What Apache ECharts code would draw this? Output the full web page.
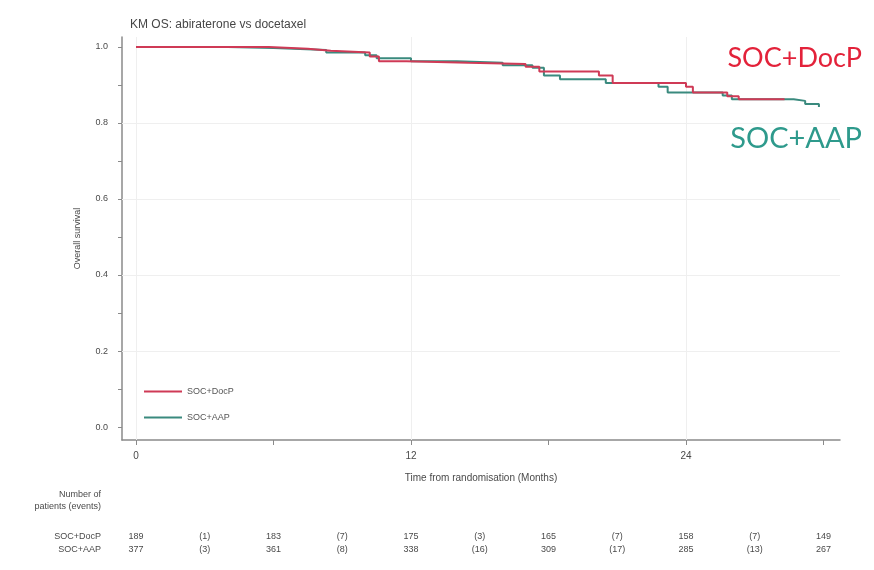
<!DOCTYPE html>
<html>
<head>
<meta charset="utf-8">
<script src="https://cdn.jsdelivr.net/npm/echarts@6/dist/echarts.min.js"></script>
<style>
  html, body { margin: 0; padding: 0; background: #ffffff; }
  #chart { width: 874px; height: 570px; }
</style>
</head>
<body>
<div id="chart"></div>
<script>
// Kaplan-Meier overall survival steps (months, survival probability)
const timesDocP = [0, 5.8, 7.5, 8.5, 10.2, 10.6, 11.8, 14.5, 17.0, 17.6, 20.2, 20.8, 24.0, 24.3, 25.8, 26.3, 28.3];
const survDocP  = [1.0, 0.995, 0.990, 0.985, 0.975, 0.962, 0.958, 0.955, 0.948, 0.935, 0.925, 0.905, 0.895, 0.880, 0.870, 0.862, 0.862];

const timesAAP = [0, 4.0, 6.0, 8.3, 10.0, 10.5, 12.0, 14.0, 16.0, 17.3, 17.8, 18.5, 20.5, 22.8, 23.2, 25.6, 26.0, 28.7, 29.2, 29.8];
const survAAP  = [1.0, 0.997, 0.992, 0.985, 0.978, 0.970, 0.962, 0.958, 0.952, 0.945, 0.925, 0.915, 0.905, 0.895, 0.880, 0.872, 0.862, 0.858, 0.850, 0.842];

// Number at risk table
const riskTimes  = [0, 6, 12, 18, 24, 30];
const riskDocP   = [189, 183, 175, 165, 158, 149];
const riskAAP    = [377, 361, 338, 309, 285, 267];
const eventTimes = [3, 9, 15, 21, 27];
const eventsDocP = [1, 7, 3, 7, 7];
const eventsAAP  = [3, 8, 16, 17, 13];

// Axis ticks and labels
const xTicks  = [0, 6, 12, 18, 24, 30];
const xLabels = [0, 12, 24];
const yTicks  = [0, 0.1, 0.2, 0.3, 0.4, 0.5, 0.6, 0.7, 0.8, 0.9, 1.0];
const yLabels = [0, 0.2, 0.4, 0.6, 0.8, 1.0];

const armNames = ['SOC+DocP', 'SOC+AAP'];
const red = '#cf3a56';
const teal = '#3a8a7e';

const zip = (a, b) => a.map((v, i) => [v, b[i]]);

const chart = echarts.init(document.getElementById('chart'));
const font = 'Liberation Sans, Arial, sans-serif';
const axisGray = '#8a8a8a';
const textGray = '#4a4a4a';

chart.setOption({
  animation: false,
  backgroundColor: '#ffffff',
  textStyle: { fontFamily: font },
  title: {
    text: 'KM OS: abiraterone vs docetaxel',
    left: 125, top: 14,
    textStyle: { fontSize: 12, fontWeight: 'normal', color: '#464646', fontFamily: font }
  },
  grid: { left: 122, right: 34, top: 37, bottom: 130 },
  legend: {
    data: armNames,
    orient: 'vertical',
    left: 139, top: 382,
    itemWidth: 38, itemHeight: 2, itemGap: 17,
    icon: 'rect',
    textStyle: { fontSize: 9, color: '#555', fontFamily: font }
  },
  xAxis: {
    type: 'value',
    min: -0.611, max: 30.72,
    name: 'Time from randomisation (Months)',
    nameLocation: 'middle', nameGap: 33,
    nameTextStyle: { fontSize: 10, color: textGray },
    axisLine: { show: true, onZero: false, lineStyle: { color: axisGray, width: 1.5 } },
    axisTick: { show: true, customValues: xTicks, length: 5, lineStyle: { color: axisGray } },
    axisLabel: { customValues: xLabels, fontSize: 10, color: textGray, margin: 11 },
    splitLine: { show: false }
  },
  yAxis: {
    type: 'value',
    min: -0.034, max: 1.026,
    name: 'Overall survival',
    nameLocation: 'middle', nameGap: 40,
    nameTextStyle: { fontSize: 9, color: textGray },
    axisLine: { show: true, onZero: false, lineStyle: { color: axisGray, width: 1.5 } },
    axisTick: { show: true, customValues: yTicks, length: 4, lineStyle: { color: axisGray } },
    axisLabel: { customValues: yLabels, fontSize: 9, color: textGray, margin: 14,
                 formatter: v => v.toFixed(1) },
    splitLine: { show: false }
  },
  series: [
    {
      name: armNames[0], type: 'line', step: 'end', symbol: 'none',
      data: zip(timesDocP, survDocP),
      itemStyle: { color: red },
      lineStyle: { color: red, width: 2 },
      z: 3,
      markLine: {
        silent: true, symbol: 'none', label: { show: false },
        lineStyle: { color: '#efefef', width: 1, type: 'solid' },
        data: [
          { yAxis: 0.2 }, { yAxis: 0.4 }, { yAxis: 0.6 }, { yAxis: 0.8 },
          { xAxis: 0 }, { xAxis: 12 }, { xAxis: 24 }
        ],
        z: 1
      }
    },
    {
      name: armNames[1], type: 'line', step: 'end', symbol: 'none',
      data: zip(timesAAP, survAAP),
      itemStyle: { color: teal },
      lineStyle: { color: teal, width: 2 },
      z: 2
    }
  ]
});

// Annotation labels and the number-at-risk table, placed through the x axis scale
function buildGraphics() {
  const px = t => chart.convertToPixel({ xAxisIndex: 0 }, t);
  const small = { fontSize: 9, fill: textGray, fontFamily: font };
  const els = [];

  els.push({ type: 'text', right: 12, top: 45,
    style: { text: 'SOC+DocP', fontSize: 27, fill: '#e3223a', fontFamily: 'Lato, Open Sans, sans-serif' } });
  els.push({ type: 'text', right: 12, top: 124,
    style: { text: 'SOC+AAP', fontSize: 29, fill: '#2e9a8c', fontFamily: 'Lato, Open Sans, sans-serif' } });

  const labelRight = 101;
  [['Number of', 495], ['patients (events)', 507], ['SOC+DocP', 537], ['SOC+AAP', 550]].forEach(([s, y]) => {
    els.push({ type: 'text', x: labelRight, y: y,
      style: Object.assign({ text: s, align: 'right', verticalAlign: 'middle' }, small) });
  });

  riskTimes.forEach((t, i) => {
    els.push({ type: 'text', x: px(t), y: 537,
      style: Object.assign({ text: String(riskDocP[i]), align: 'center', verticalAlign: 'middle' }, small) });
    els.push({ type: 'text', x: px(t), y: 550,
      style: Object.assign({ text: String(riskAAP[i]), align: 'center', verticalAlign: 'middle' }, small) });
  });
  eventTimes.forEach((t, i) => {
    els.push({ type: 'text', x: px(t), y: 537,
      style: Object.assign({ text: '(' + eventsDocP[i] + ')', align: 'center', verticalAlign: 'middle' }, small) });
    els.push({ type: 'text', x: px(t), y: 550,
      style: Object.assign({ text: '(' + eventsAAP[i] + ')', align: 'center', verticalAlign: 'middle' }, small) });
  });

  chart.setOption({ graphic: { elements: els } });
}
buildGraphics();
</script>
</body>
</html>
